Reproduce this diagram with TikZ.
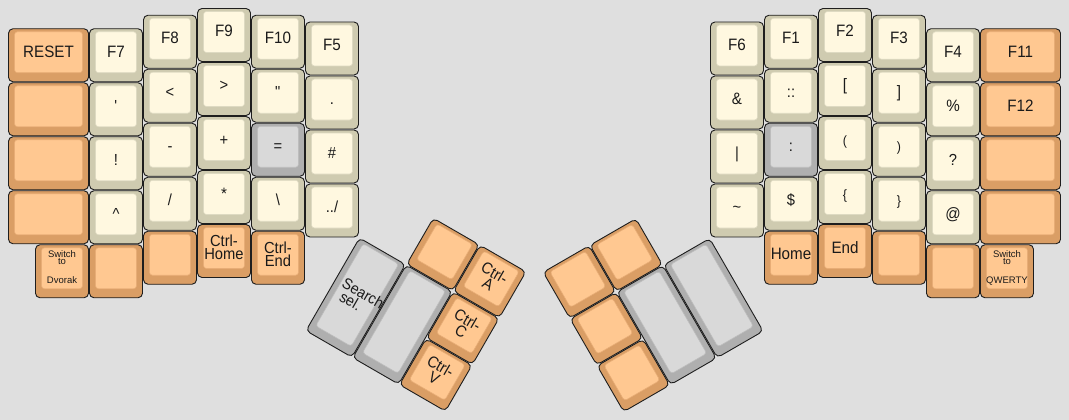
\documentclass[tikz,border=0pt]{standalone}
\usepackage{fontspec}
\setmainfont{Liberation Sans}[FakeStretch=0.92]
\newfontfamily\plainsans{Liberation Sans}
\definecolor{bg}{HTML}{DFDFDF}
\definecolor{keyline}{HTML}{1E1E1E}
\definecolor{labelcol}{HTML}{1A1A1A}
\definecolor{orrim}{HTML}{DA9E65}
\definecolor{orface}{HTML}{FFC891}
\definecolor{oredge}{HTML}{E8AD76}
\definecolor{crrim}{HTML}{CFCBB0}
\definecolor{crface}{HTML}{FFF8E0}
\definecolor{credge}{HTML}{DEDAC2}
\definecolor{gyrim}{HTML}{AFAFAF}
\definecolor{gyface}{HTML}{D9D9D9}
\definecolor{gyedge}{HTML}{BDBDBD}
\tikzset{
  keyrim/.style={draw=keyline, line width=0.9pt, rounded corners=4.5pt},
  keyface/.style={line width=0.6pt, rounded corners=3pt},
  lbl/.style={anchor=base, inner sep=0pt, text=labelcol, font=\fontsize{16.5}{19}\selectfont},
  sym/.style={lbl, font=\fontsize{16}{18}\selectfont},
  paren/.style={lbl, font=\fontsize{13.5}{16}\selectfont},
  twolbl/.style={anchor=north, inner sep=0pt, align=center, text=labelcol, font=\fontsize{16}{13}\selectfont},
  tinylbl/.style={anchor=base, inner sep=0pt, text=labelcol, font=\plainsans\fontsize{9.5}{11}\selectfont},
  sidelbl/.style={anchor=north west, inner sep=0pt, align=left, text=labelcol, font=\fontsize{15.5}{13}\selectfont},
}
% key cap: x, y, w, h (units), colour prefix
\newcommand{\keycap}[5]{%
  \path[keyrim, fill=#5rim] ({54*(#1)},{54*(#2)}) rectangle ({54*(#1+#3)-1},{54*(#2+#4)-1});
  \path[keyface, fill=#5face, draw=#5edge] ({54*(#1)+6},{54*(#2)+3}) rectangle ({54*(#1+#3)-7},{54*(#2+#4)-10});
}
% one-line label: [style] name, x, y, w, text
\newcommand{\klabel}[6][lbl]{%
  \node[#1] (#2) at ({54*(#3)+(54*(#5)-1)/2},{54*(#4)+28.5}) {#6};
}
% two-line label: name, x, y, w, text with \\
\newcommand{\kltwo}[5]{%
  \node[twolbl] (#1) at ({54*(#2)+(54*(#4)-1)/2},{54*(#3)+10.6}) {#5};
}
% small three-line label: name, x, y, line1, line2, line3
\newcommand{\klsmall}[6]{%
  \node[tinylbl] (#1) at ({54*(#2)+26.5},{54*(#3)+12.3}) {#4};
  \node[tinylbl] (#1-b) at ({54*(#2)+26.5},{54*(#3)+19.6}) {#5};
  \node[tinylbl] (#1-c) at ({54*(#2)+26.5},{54*(#3)+38.5}) {#6};
}
\begin{document}
\begin{tikzpicture}[x=1pt, y=-1pt]
\fill[bg] (0,0) rectangle (1069,420);
\useasboundingbox (0,0) rectangle (1069,420);
\begin{scope}[shift={(8.5,8.5)}]
% ---------- left hand ----------
\keycap{0}{0.375}{1.5}{1}{or} \klabel{reset}{0}{0.375}{1.5}{RESET}
\keycap{0}{1.375}{1.5}{1}{or}
\keycap{0}{2.375}{1.5}{1}{or}
\keycap{0}{3.375}{1.5}{1}{or}
\keycap{0.5}{4.375}{1}{1}{or} \klsmall{dvorak}{0.5}{4.375}{Switch}{to}{Dvorak}
\keycap{1.5}{0.375}{1}{1}{cr} \klabel{f7}{1.5}{0.375}{1}{F7}
\keycap{1.5}{1.375}{1}{1}{cr} \klabel[sym]{quote}{1.5}{1.375}{1}{\textquotesingle}
\keycap{1.5}{2.375}{1}{1}{cr} \klabel[sym]{excl}{1.5}{2.375}{1}{!}
\keycap{1.5}{3.375}{1}{1}{cr} \klabel[sym]{caret}{1.5}{3.375}{1}{\textasciicircum}
\keycap{1.5}{4.375}{1}{1}{or}
\keycap{2.5}{0.125}{1}{1}{cr} \klabel{f8}{2.5}{0.125}{1}{F8}
\keycap{2.5}{1.125}{1}{1}{cr} \klabel[sym]{lt}{2.5}{1.125}{1}{<}
\keycap{2.5}{2.125}{1}{1}{cr} \klabel[sym]{minus}{2.5}{2.125}{1}{-}
\keycap{2.5}{3.125}{1}{1}{cr} \klabel[sym]{slash}{2.5}{3.125}{1}{/}
\keycap{2.5}{4.125}{1}{1}{or}
\keycap{3.5}{0}{1}{1}{cr} \klabel{f9}{3.5}{0}{1}{F9}
\keycap{3.5}{1}{1}{1}{cr} \klabel[sym]{gt}{3.5}{1}{1}{>}
\keycap{3.5}{2}{1}{1}{cr} \klabel[sym]{plus}{3.5}{2}{1}{+}
\keycap{3.5}{3}{1}{1}{cr} \klabel{star}{3.5}{3}{1}{*}
\keycap{3.5}{4}{1}{1}{or} \kltwo{chome}{3.5}{4}{1}{Ctrl-\\Home}
\keycap{4.5}{0.125}{1}{1}{cr} \klabel{f10}{4.5}{0.125}{1}{F10}
\keycap{4.5}{1.125}{1}{1}{cr} \klabel[sym]{dquote}{4.5}{1.125}{1}{\textquotedbl}
\keycap{4.5}{2.125}{1}{1}{gy} \klabel[sym]{equal}{4.5}{2.125}{1}{=}
\keycap{4.5}{3.125}{1}{1}{cr} \klabel[sym]{bslash}{4.5}{3.125}{1}{\textbackslash}
\keycap{4.5}{4.125}{1}{1}{or} \kltwo{cend}{4.5}{4.125}{1}{Ctrl-\\End}
\keycap{5.5}{0.25}{1}{1}{cr} \klabel{f5}{5.5}{0.25}{1}{F5}
\keycap{5.5}{1.25}{1}{1}{cr} \klabel[sym]{dot}{5.5}{1.25}{1}{.}
\keycap{5.5}{2.25}{1}{1}{cr} \klabel[sym]{hash}{5.5}{2.25}{1}{\#}
\keycap{5.5}{3.25}{1}{1}{cr} \klabel[sym]{updir}{5.5}{3.25}{1}{../}
% ---------- right hand ----------
\keycap{13}{0.25}{1}{1}{cr} \klabel{f6}{13}{0.25}{1}{F6}
\keycap{13}{1.25}{1}{1}{cr} \klabel{amp}{13}{1.25}{1}{\&}
\keycap{13}{2.25}{1}{1}{cr} \klabel[sym]{bar}{13}{2.25}{1}{|}
\keycap{13}{3.25}{1}{1}{cr} \klabel[sym]{tilde}{13}{3.25}{1}{\textasciitilde}
\keycap{14}{0.125}{1}{1}{cr} \klabel{f1}{14}{0.125}{1}{F1}
\keycap{14}{1.125}{1}{1}{cr} \klabel[sym]{dcolon}{14}{1.125}{1}{::}
\keycap{14}{2.125}{1}{1}{gy} \klabel[sym]{colon}{14}{2.125}{1}{:}
\keycap{14}{3.125}{1}{1}{cr} \klabel[sym]{dollar}{14}{3.125}{1}{\$}
\keycap{14}{4.125}{1}{1}{or} \klabel{home}{14}{4.125}{1}{Home}
\keycap{15}{0}{1}{1}{cr} \klabel{f2}{15}{0}{1}{F2}
\keycap{15}{1}{1}{1}{cr} \klabel{lbrack}{15}{1}{1}{[}
\keycap{15}{2}{1}{1}{cr} \klabel[paren]{lparen}{15}{2}{1}{(}
\keycap{15}{3}{1}{1}{cr} \klabel[paren]{lbrace}{15}{3}{1}{\{}
\keycap{15}{4}{1}{1}{or} \klabel{end}{15}{4}{1}{End}
\keycap{16}{0.125}{1}{1}{cr} \klabel{f3}{16}{0.125}{1}{F3}
\keycap{16}{1.125}{1}{1}{cr} \klabel{rbrack}{16}{1.125}{1}{]}
\keycap{16}{2.125}{1}{1}{cr} \klabel[paren]{rparen}{16}{2.125}{1}{)}
\keycap{16}{3.125}{1}{1}{cr} \klabel[paren]{rbrace}{16}{3.125}{1}{\}}
\keycap{16}{4.125}{1}{1}{or}
\keycap{17}{0.375}{1}{1}{cr} \klabel{f4}{17}{0.375}{1}{F4}
\keycap{17}{1.375}{1}{1}{cr} \klabel{pct}{17}{1.375}{1}{\%}
\keycap{17}{2.375}{1}{1}{cr} \klabel[sym]{quest}{17}{2.375}{1}{?}
\keycap{17}{3.375}{1}{1}{cr} \klabel{at}{17}{3.375}{1}{@}
\keycap{17}{4.375}{1}{1}{or}
\keycap{18}{0.375}{1.5}{1}{or} \klabel{f11}{18}{0.375}{1.5}{F11}
\keycap{18}{1.375}{1.5}{1}{or} \klabel{f12}{18}{1.375}{1.5}{F12}
\keycap{18}{2.375}{1.5}{1}{or}
\keycap{18}{3.375}{1.5}{1}{or}
\keycap{18}{4.375}{1}{1}{or} \klsmall{qwerty}{18}{4.375}{Switch}{to}{QWERTY}
\end{scope}
% ---------- left thumb cluster ----------
\begin{scope}[shift={(359.5,238)}, rotate=-30, transform shape]
\keycap{1}{-1}{1}{1}{or}
\keycap{2}{-1}{1}{1}{or} \kltwo{ctrla}{2}{-1}{1}{Ctrl-\\A}
\keycap{0}{0}{1}{2}{gy}
\node[sidelbl] (search) at (8,40) {Search\\\hspace{4.5pt}sel.};
\keycap{1}{0}{1}{2}{gy}
\keycap{2}{0}{1}{1}{or} \kltwo{ctrlc}{2}{0}{1}{Ctrl-\\C}
\keycap{2}{1}{1}{1}{or} \kltwo{ctrlv}{2}{1}{1}{Ctrl-\\V}
\end{scope}
% ---------- right thumb cluster ----------
\begin{scope}[shift={(710.5,238)}, rotate=30, transform shape]
\keycap{-3}{-1}{1}{1}{or}
\keycap{-2}{-1}{1}{1}{or}
\keycap{-3}{0}{1}{1}{or}
\keycap{-2}{0}{1}{2}{gy}
\keycap{-1}{0}{1}{2}{gy}
\keycap{-3}{1}{1}{1}{or}
\end{scope}
\end{tikzpicture}
\end{document}
